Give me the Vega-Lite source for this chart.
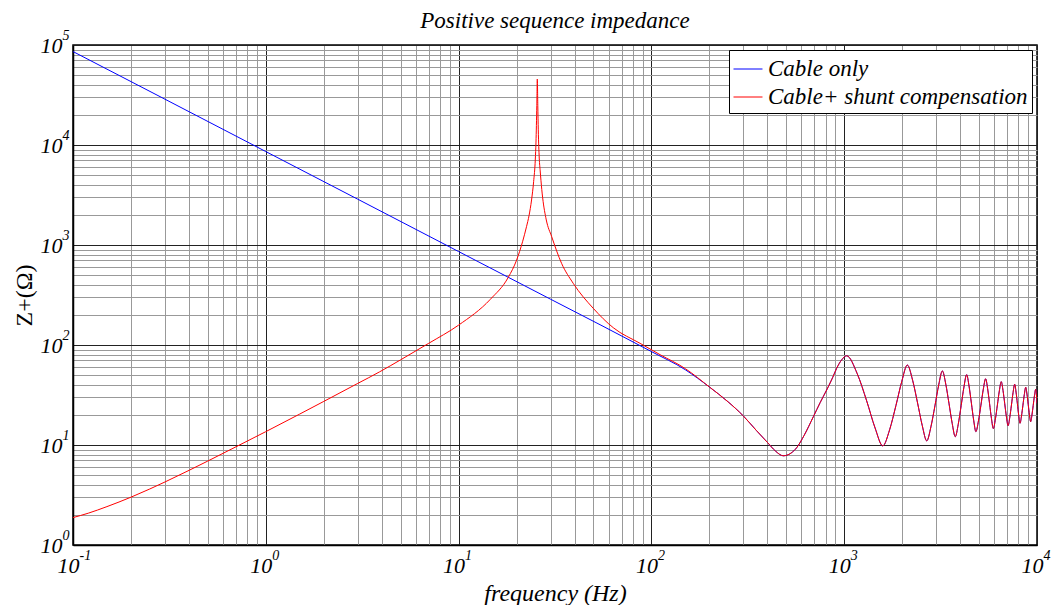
{
  "$schema": "https://vega.github.io/schema/vega-lite/v6.json",
  "width": 964,
  "height": 500,
  "autosize": {"type": "none"},
  "padding": {"left": 73, "top": 45, "right": 23, "bottom": 60},
  "background": "white",
  "title": {"text": "Positive sequence impedance", "font": "Liberation Serif", "fontSize": 23, "fontStyle": "italic", "fontWeight": "normal", "color": "black", "offset": -5, "anchor": "middle"},
  "config": {"view": {"stroke": "black", "strokeWidth": 1.5}, "font": "Liberation Serif"},
  "resolve": {"axis": {"x": "independent", "y": "independent"}},
  "data": {"values": [
    {"c":"blue","f":0.1,"z":86000},{"c":"blue","f":0.3,"z":28700},{"c":"blue","f":1,"z":8600},{"c":"blue","f":3,"z":2870},{"c":"blue","f":10,"z":860},{"c":"blue","f":30,"z":287},{"c":"blue","f":100,"z":86},{"c":"blue","f":150,"z":56.5},
    {"c":"red","f":0.1,"z":1.88},{"c":"red","f":0.12,"z":2.08},{"c":"red","f":0.15,"z":2.42},{"c":"red","f":0.2,"z":3.01},{"c":"red","f":0.25,"z":3.63},{"c":"red","f":0.3,"z":4.27},{"c":"red","f":0.4,"z":5.58},{"c":"red","f":0.5,"z":6.91},{"c":"red","f":0.7,"z":9.59},{"c":"red","f":1,"z":13.6},{"c":"red","f":1.5,"z":20.4},{"c":"red","f":2,"z":27.3},{"c":"red","f":3,"z":41.3},{"c":"red","f":3.9,"z":54},{"c":"red","f":5,"z":71},{"c":"red","f":7,"z":104},{"c":"red","f":10,"z":158},{"c":"red","f":14.6,"z":286},{"c":"red","f":18.1,"z":475},{"c":"red","f":20,"z":708},{"c":"red","f":21.5,"z":1090},{"c":"red","f":22.5,"z":1525},{"c":"red","f":23.2,"z":1975},{"c":"red","f":23.9,"z":2820},{"c":"red","f":24.5,"z":4300},{"c":"red","f":25,"z":7235},{"c":"red","f":25.2,"z":10700},{"c":"red","f":25.45,"z":24800},{"c":"red","f":25.6,"z":45700},{"c":"red","f":25.75,"z":24900},{"c":"red","f":25.9,"z":14170},{"c":"red","f":26.2,"z":7400},{"c":"red","f":26.5,"z":5500},{"c":"red","f":27,"z":3590},{"c":"red","f":27.3,"z":2950},{"c":"red","f":28.5,"z":1780},{"c":"red","f":30.4,"z":1211},{"c":"red","f":34.2,"z":656},{"c":"red","f":39.3,"z":414},{"c":"red","f":49.9,"z":233},{"c":"red","f":63.4,"z":149},{"c":"red","f":87.3,"z":104},{"c":"red","f":111,"z":80},{"c":"red","f":150,"z":58},
    {"c":"both","f":200,"z":38},{"c":"both","f":250,"z":27},{"c":"both","f":300,"z":19.5},{"c":"both","f":350,"z":14},{"c":"both","f":400,"z":10.6},{"c":"both","f":440,"z":8.7},{"c":"both","f":483,"z":7.8},{"c":"both","f":530,"z":8.3},{"c":"both","f":567,"z":9.4},{"c":"both","f":620,"z":12.5},{"c":"both","f":692,"z":19.2},{"c":"both","f":750,"z":26.5},{"c":"both","f":811,"z":35.5},{"c":"both","f":870,"z":47},{"c":"both","f":914,"z":58.5},{"c":"both","f":970,"z":71},{"c":"both","f":1030,"z":78},
    {"c":"both","f":1169,"z":51.5},{"c":"both","f":1308,"z":27.6},{"c":"both","f":1446,"z":14.8},{"c":"both","f":1585,"z":9.8},
    {"c":"both","f":1720,"z":14.2},{"c":"both","f":1855,"z":24.8},{"c":"both","f":1990,"z":43.4},{"c":"both","f":2125,"z":63},
    {"c":"both","f":2264,"z":44.4},{"c":"both","f":2402,"z":26.3},{"c":"both","f":2541,"z":15.6},{"c":"both","f":2680,"z":11},
    {"c":"both","f":2817,"z":15.2},{"c":"both","f":2955,"z":24.6},{"c":"both","f":3092,"z":39.9},{"c":"both","f":3230,"z":55},
    {"c":"both","f":3364,"z":40.6},{"c":"both","f":3498,"z":25.8},{"c":"both","f":3633,"z":16.4},{"c":"both","f":3767,"z":12.1},
    {"c":"both","f":3904,"z":16.1},{"c":"both","f":4041,"z":24.7},{"c":"both","f":4178,"z":37.9},{"c":"both","f":4315,"z":50.5},
    {"c":"both","f":4441,"z":38.9},{"c":"both","f":4568,"z":26.2},{"c":"both","f":4694,"z":17.7},{"c":"both","f":4820,"z":13.6},
    {"c":"both","f":4969,"z":17.4},{"c":"both","f":5118,"z":25.0},{"c":"both","f":5266,"z":36.1},{"c":"both","f":5415,"z":46},
    {"c":"both","f":5545,"z":36.6},{"c":"both","f":5675,"z":25.9},{"c":"both","f":5805,"z":18.4},{"c":"both","f":5935,"z":14.6},
    {"c":"both","f":6082,"z":18.1},{"c":"both","f":6230,"z":25.1},{"c":"both","f":6377,"z":34.7},{"c":"both","f":6525,"z":43},
    {"c":"both","f":6664,"z":35.1},{"c":"both","f":6802,"z":25.9},{"c":"both","f":6941,"z":19.1},{"c":"both","f":7080,"z":15.6},
    {"c":"both","f":7225,"z":18.9},{"c":"both","f":7370,"z":25.1},{"c":"both","f":7515,"z":33.5},{"c":"both","f":7660,"z":40.5},
    {"c":"both","f":7786,"z":33.8},{"c":"both","f":7913,"z":25.9},{"c":"both","f":8039,"z":19.7},{"c":"both","f":8165,"z":16.5},
    {"c":"both","f":8309,"z":19.5},{"c":"both","f":8453,"z":25.0},{"c":"both","f":8596,"z":32.0},{"c":"both","f":8740,"z":37.8},
    {"c":"both","f":8872,"z":32.3},{"c":"both","f":9005,"z":25.4},{"c":"both","f":9138,"z":20.0},{"c":"both","f":9270,"z":17.1},
    {"c":"both","f":9413,"z":19.9},{"c":"both","f":9555,"z":24.8},{"c":"both","f":9698,"z":31.0},{"c":"both","f":9840,"z":36},
    {"c":"both","f":10000,"z":26}
  ]},
  "layer": [
    {
      "transform": [{"filter": "datum.c === 'blue' || datum.c === 'both'"}, {"calculate": "'Cable only'", "as": "s"}],
      "mark": {"type": "line", "interpolate": "monotone", "strokeWidth": 1, "clip": true},
      "encoding": {
        "x": {
          "field": "f", "type": "quantitative",
          "scale": {"type": "log", "domain": [0.1, 10000], "nice": false},
          "axis": {
            "orient": "bottom",
            "values": [0.1,0.2,0.3,0.4,0.5,0.6,0.7,0.8,0.9,1,2,3,4,5,6,7,8,9,10,20,30,40,50,60,70,80,90,100,200,300,400,500,600,700,800,900,1000,2000,3000,4000,5000,6000,7000,8000,9000,10000],
            "labelExpr": "abs(log(datum.value)/LN10 - round(log(datum.value)/LN10)) < 0.001 ? '10' : ''",
            "labelFont": "Liberation Serif", "labelFontStyle": "italic", "labelFontSize": 22, "labelColor": "black",
            "labelPadding": 10, "labelOffset": -5, "labelOverlap": false, "labelFlush": false, "labelBound": false,
            "ticks": false,
            "domain": true, "domainColor": "black", "domainWidth": 1.5,
            "grid": true,
            "gridColor": {"condition": {"test": "abs(log(datum.value)/LN10 - round(log(datum.value)/LN10)) < 0.001", "value": "#222222"}, "value": "#999999"},
            "gridWidth": 1, "gridOpacity": 1,
            "title": "frequency (Hz)", "titleFont": "Liberation Serif", "titleFontStyle": "italic", "titleFontSize": 24, "titleFontWeight": "normal", "titleColor": "black", "titlePadding": 5
          }
        },
        "y": {
          "field": "z", "type": "quantitative",
          "scale": {"type": "log", "domain": [1, 100000], "nice": false},
          "axis": {
            "orient": "left",
            "values": [1,2,3,4,5,6,7,8,9,10,20,30,40,50,60,70,80,90,100,200,300,400,500,600,700,800,900,1000,2000,3000,4000,5000,6000,7000,8000,9000,10000,20000,30000,40000,50000,60000,70000,80000,90000,100000],
            "labelExpr": "abs(log(datum.value)/LN10 - round(log(datum.value)/LN10)) < 0.001 ? '10' : ''",
            "labelFont": "Liberation Serif", "labelFontStyle": "italic", "labelFontSize": 22, "labelColor": "black",
            "labelPadding": 11, "labelOverlap": false, "labelFlush": false, "labelBound": false,
            "ticks": false,
            "domain": true, "domainColor": "black", "domainWidth": 1.5,
            "grid": true,
            "gridColor": {"condition": {"test": "abs(log(datum.value)/LN10 - round(log(datum.value)/LN10)) < 0.001", "value": "#222222"}, "value": "#999999"},
            "gridWidth": 1, "gridOpacity": 1,
            "title": "Z+(Ω)", "titleFont": "Liberation Serif", "titleFontStyle": "normal", "titleFontSize": 24, "titleFontWeight": "normal", "titleColor": "black", "titlePadding": 4
          }
        },
        "color": {
          "field": "s", "type": "nominal",
          "scale": {"domain": ["Cable only", "Cable+ shunt compensation"], "range": ["#0000ff", "#ff0000"]},
          "legend": {
            "orient": "top-right", "offset": 5, "title": null,
            "labelFont": "Liberation Serif", "labelFontStyle": "italic", "labelFontSize": 23, "labelColor": "black", "labelLimit": 400, "labelOffset": 5,
            "symbolType": "stroke", "symbolSize": 840, "symbolStrokeWidth": 1,
            "strokeColor": "black", "fillColor": "white", "padding": 4, "rowPadding": 1
          }
        }
      }
    },
    {
      "transform": [{"filter": "datum.c === 'red' || datum.c === 'both'"}, {"calculate": "'Cable+ shunt compensation'", "as": "s"}],
      "mark": {"type": "line", "interpolate": "monotone", "strokeWidth": 1, "clip": true},
      "encoding": {
        "x": {"field": "f", "type": "quantitative", "axis": null},
        "y": {"field": "z", "type": "quantitative", "axis": null},
        "color": {"field": "s", "type": "nominal"}
      }
    },
    {
      "transform": [{"filter": "datum.c === 'blue'"}],
      "mark": {"type": "point", "opacity": 0},
      "encoding": {
        "x": {
          "field": "f", "type": "quantitative",
          "axis": {
            "orient": "bottom",
            "values": [0.1, 1, 10, 100, 1000, 10000],
            "labelExpr": "['-1','0','1','2','3','4'][round(log(datum.value)/LN10)+1]",
            "labelFont": "Liberation Serif", "labelFontStyle": "italic", "labelFontSize": 14, "labelColor": "black",
            "labelAlign": "left", "labelPadding": 3, "labelOffset": 6, "labelOverlap": false, "labelFlush": false, "labelBound": false,
            "ticks": false, "domain": false, "grid": false, "title": null
          }
        },
        "y": {
          "field": "z", "type": "quantitative",
          "axis": {
            "orient": "left",
            "values": [1, 10, 100, 1000, 10000, 100000],
            "labelExpr": "['0','1','2','3','4','5'][round(log(datum.value)/LN10)]",
            "labelFont": "Liberation Serif", "labelFontStyle": "italic", "labelFontSize": 14, "labelColor": "black",
            "labelAlign": "left", "labelPadding": 11, "labelOffset": -10, "labelOverlap": false, "labelFlush": false, "labelBound": false,
            "ticks": false, "domain": false, "grid": false, "title": null
          }
        }
      }
    }
  ]
}
